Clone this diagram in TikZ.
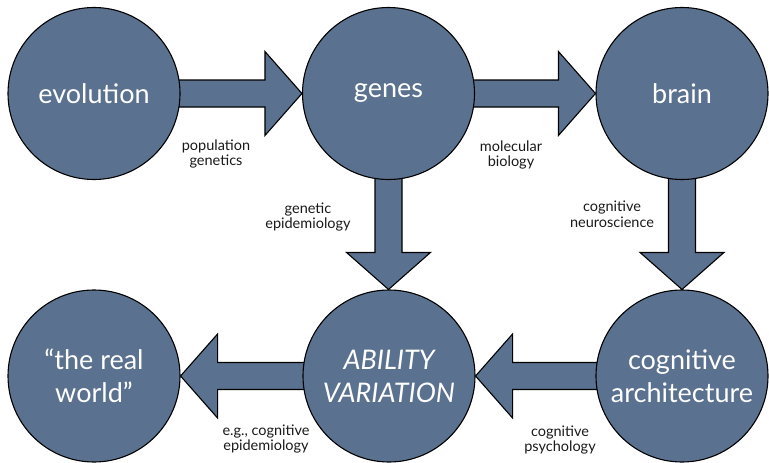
\documentclass[tikz,border=0pt]{standalone}
\usepackage{fontspec}
\setmainfont{Lato}
\usetikzlibrary{calc}
\definecolor{ballfill}{RGB}{90,113,143}
\definecolor{labeltext}{RGB}{25,25,25}
\tikzset{
  ball/.style={circle, minimum size=172pt, inner sep=0pt, fill=ballfill, draw=black, line width=1.1pt,
    text=white, font=\fontsize{27}{33}\selectfont, align=center},
  blockarrow/.style={fill=ballfill, draw=black, line width=1.1pt, line join=miter},
  lbl/.style={font=\fontsize{14.5}{15.5}\selectfont, text=labeltext, align=center, inner sep=0pt}
}
\begin{document}
\begin{tikzpicture}[x=1pt,y=-1pt]
\useasboundingbox (0,0) rectangle (769,463);
\path (94,93.5) coordinate (cevo)
      (388.5,93.5) coordinate (cgen)
      (682,93.5) coordinate (cbrain)
      (94,376) coordinate (creal)
      (389,376) coordinate (cabil)
      (682,376) coordinate (carch);
% invisible nodes to get anchors
\node[ball, draw=none, fill=none] (evo0) at (cevo) {};
\node[ball, draw=none, fill=none] (gen0) at (cgen) {};
\node[ball, draw=none, fill=none] (brain0) at (cbrain) {};
\node[ball, draw=none, fill=none] (real0) at (creal) {};
\node[ball, draw=none, fill=none] (abil0) at (cabil) {};
\node[ball, draw=none, fill=none] (arch0) at (carch) {};
% rightward arrows
\foreach \a/\b in {evo0/gen0, gen0/brain0}{
\draw[blockarrow] let \p1=(\a.east), \p2=(\b.west) in
  (\x1-4pt,\y1+13.5pt) -- (\x2-37pt,\y1+13.5pt) -- (\x2-37pt,\y1+42pt) -- (\x2,\y1)
  -- (\x2-37pt,\y1-42pt) -- (\x2-37pt,\y1-13.5pt) -- (\x1-4pt,\y1-13.5pt) -- cycle;
}
% leftward arrows
\foreach \a/\b in {arch0/abil0, abil0/real0}{
\draw[blockarrow] let \p1=(\a.west), \p2=(\b.east) in
  (\x1+4pt,\y1+13.5pt) -- (\x2+37pt,\y1+13.5pt) -- (\x2+37pt,\y1+42pt) -- (\x2,\y1)
  -- (\x2+37pt,\y1-42pt) -- (\x2+37pt,\y1-13.5pt) -- (\x1+4pt,\y1-13.5pt) -- cycle;
}
% downward arrows
\foreach \a/\b in {gen0/abil0, brain0/arch0}{
\draw[blockarrow] let \p1=(\a.south), \p2=(\b.north) in
  (\x1-13.5pt,\y1+4pt) -- (\x1-13.5pt,\y2+37pt) -- (\x1-42pt,\y2+37pt) -- (\x1,\y2)
  -- (\x1+42pt,\y2+37pt) -- (\x1+13.5pt,\y2+37pt) -- (\x1+13.5pt,\y1+4pt) -- cycle;
}
% circles
\node[ball] (evo) at (cevo) {evolution};
\node[ball] (gen) at (cgen) {genes};
\node[ball] (brain) at (cbrain) {brain};
\node[ball] (real) at (creal) {“the real\\world”};
\node[ball] (abil) at (cabil) {\itshape ABILITY\\\itshape VARIATION};
\node[ball] (arch) at (carch) {cognitive\\architecture};
% labels
\node[lbl] (l1) at (216,154) {population\\genetics};
\node[lbl] (l2) at (511,155) {molecular\\biology};
\node[lbl] (l3) at (308,217) {genetic\\epidemiology};
\node[lbl] (l4) at (612,214) {cognitive\\neuroscience};
\node[lbl] (l5) at (266,439) {e.g., cognitive\\epidemiology};
\node[lbl] (l6) at (560,440) {cognitive\\psychology};
\end{tikzpicture}
\end{document}
